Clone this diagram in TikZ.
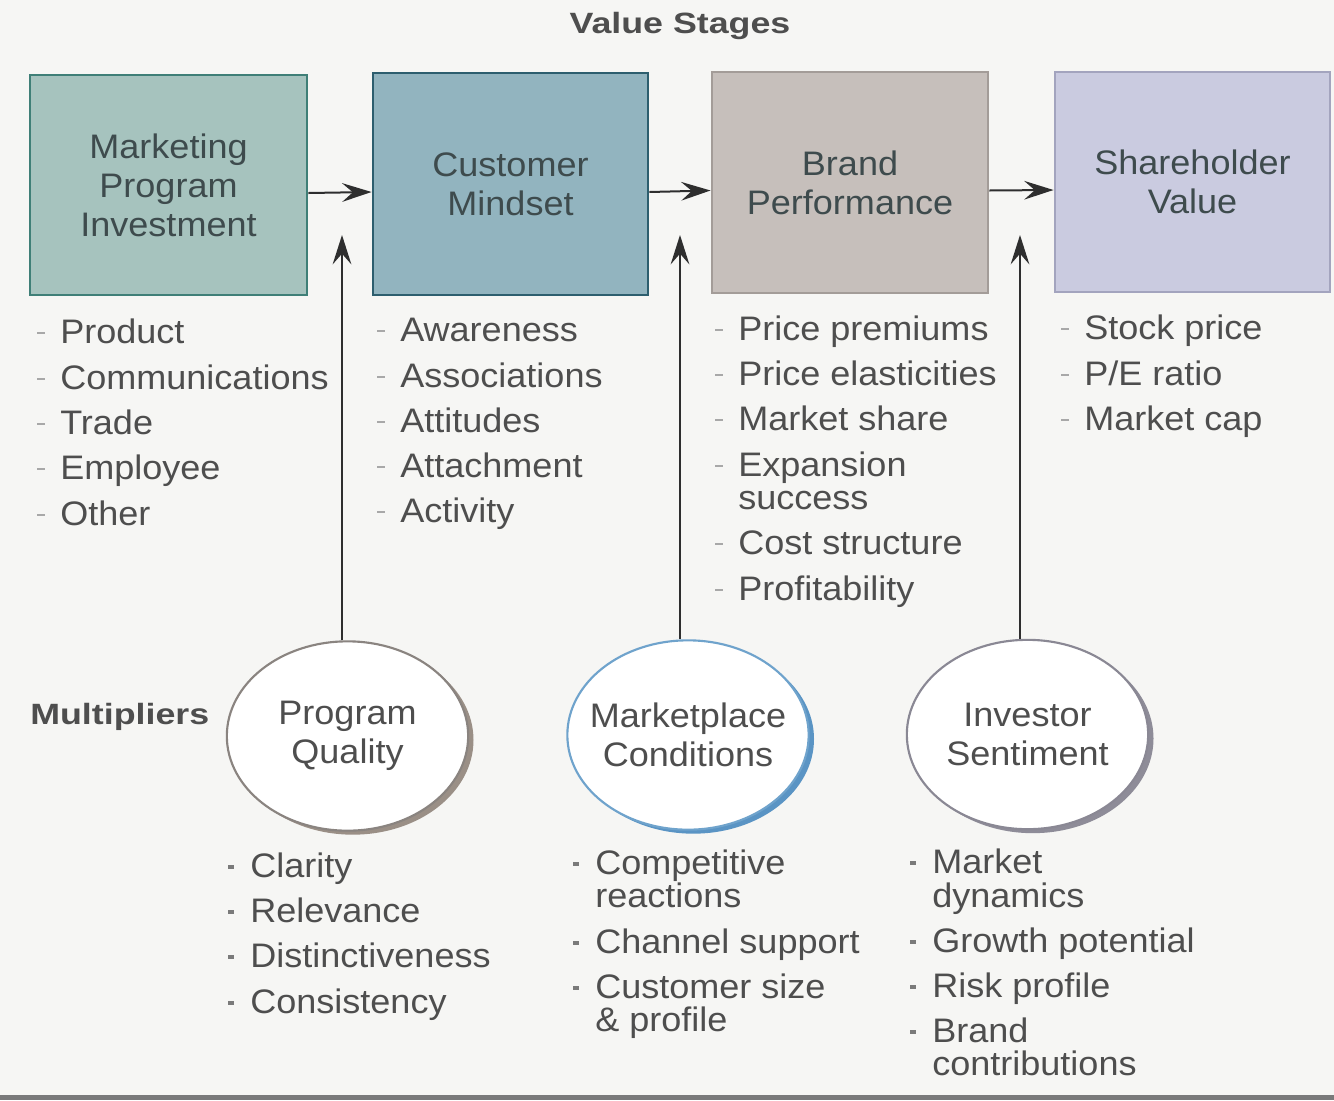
\documentclass[tikz,border=0pt]{standalone}
\usepackage{fontspec}
\setmainfont{Liberation Sans}[FakeStretch=1.06]
\newfontfamily\wbold{Liberation Sans}[FakeStretch=1.22]
\usetikzlibrary{arrows.meta,shadows,shapes.geometric}
\definecolor{bgc}{HTML}{F6F6F4}
\definecolor{barc}{HTML}{7A7A7A}
\definecolor{txtc}{HTML}{4E4E4E}
\definecolor{boxtxt}{HTML}{3E4B4D}
\definecolor{f1}{HTML}{A6C3BE}\definecolor{d1}{HTML}{3F7F77}
\definecolor{f2}{HTML}{92B4BF}\definecolor{d2}{HTML}{2D5E6E}
\definecolor{f3}{HTML}{C6BFBB}\definecolor{d3}{HTML}{A39C98}
\definecolor{f4}{HTML}{CACBE0}\definecolor{d4}{HTML}{A3A4BE}
\definecolor{e1}{HTML}{8A8480}\definecolor{s1}{HTML}{9A8F86}
\definecolor{e2}{HTML}{6FA3CC}\definecolor{s2}{HTML}{5A94C4}
\definecolor{e3}{HTML}{8A8894}\definecolor{s3}{HTML}{8E8C98}
\definecolor{arrc}{HTML}{2E2E2E}
\definecolor{bulc}{HTML}{A8A8A8}
\definecolor{bulc2}{HTML}{7A7A7A}
\newcommand{\bodyfont}{\fontsize{25.5pt}{29.25pt}\selectfont}
\newcommand{\titlefont}{\wbold\bfseries\fontsize{22pt}{26pt}\selectfont}
\tikzset{
  stagebox/.style={draw, line width=2.2pt, inner sep=0pt, text=boxtxt,
    align=center, font=\bodyfont},
  mult/.style={ellipse, draw, fill=white, line width=1.6pt, inner sep=-24pt,
    minimum width=181pt, minimum height=142pt, align=center, text=txtc,
    font=\bodyfont},
  itemtxt/.style={anchor=base west, inner sep=0pt, text=txtc, font=\bodyfont},
  dashb/.style={fill=bulc, inner sep=0pt, minimum width=5.5pt, minimum height=2.2pt},
  dotb/.style={fill=bulc2, inner sep=0pt, minimum width=4.5pt, minimum height=3.5pt},
  arr/.style={draw=arrc, line width=1.5pt,
    -{Stealth[length=22pt,width=14pt,inset=8pt]}},
  heading/.style={inner sep=0pt, text=txtc, font=\titlefont}
}
\newcommand{\topitem}[4]{%
  \node[dashb] (#4b) at (#1-19,#2-10) {};
  \node[itemtxt] (#4) at (#1,#2) {#3};}
\newcommand{\botitem}[4]{%
  \node[dotb] (#4b) at (#1-19,#2-10) {};
  \node[itemtxt] (#4) at (#1,#2) {#3};}
\newcommand{\contline}[4]{\node[itemtxt] (#4) at (#1,#2) {#3};}
\begin{document}
\begin{tikzpicture}[x=0.75pt,y=-0.75pt]
\fill[bgc] (0,0) rectangle (1334,1100);
\useasboundingbox (0,0) rectangle (1334,1100);
\fill[barc] (0,1095) rectangle (1334,1100);

% headings
\node[heading, anchor=base] (vs) at (680,33) {Value Stages};
\node[heading, anchor=base west] (mu) at (30,724) {Multipliers};

% stage boxes
\node[stagebox, fill=f1, draw=d1, minimum width=207.75pt, minimum height=165pt]
  (b1) at (168.5,185) {Marketing\\Program\\Investment};
\node[stagebox, fill=f2, draw=d2, minimum width=206.25pt, minimum height=166.5pt]
  (b2) at (510.5,184) {Customer\\Mindset};
\node[stagebox, fill=f3, draw=d3, minimum width=207pt, minimum height=165.75pt]
  (b3) at (850,182.5) {Brand\\Performance};
\node[stagebox, fill=f4, draw=d4, minimum width=206.25pt, minimum height=165pt]
  (b4) at (1192.5,182) {Shareholder\\Value};

% horizontal arrows
\draw[arr] ([yshift=-6pt]b1.east) -- ([yshift=-6pt]b2.west);
\draw[arr] ([yshift=-6pt]b2.east) -- ([yshift=-6pt]b3.west);
\draw[arr] ([yshift=-6pt]b3.east) -- ([yshift=-6pt]b4.west);

% multipliers
\node[mult, draw=e1, drop shadow={shadow xshift=4pt, shadow yshift=-3pt, fill=s1, opacity=1}]
  (m1) at (347.5,736) {Program\\Quality};
\node[mult, draw=e2, drop shadow={shadow xshift=4pt, shadow yshift=-3pt, fill=s2, opacity=1}]
  (m2) at (688,735) {Marketplace\\Conditions};
\node[mult, draw=e3, drop shadow={shadow xshift=4pt, shadow yshift=-3pt, fill=s3, opacity=1}]
  (m3) at (1027.5,734.5) {Investor\\Sentiment};

% vertical arrows
\coordinate (t1) at (342,235);
\coordinate (t2) at (680,235);
\coordinate (t3) at (1020,235);
\draw[arr] (t1 |- m1.north) -- (t1);
\draw[arr] (t2 |- m2.north) -- (t2);
\draw[arr] (t3 |- m3.north) -- (t3);

% lists under boxes
\topitem{60}{343}{Product}{la1}
\topitem{60}{389}{Communications}{la2}
\topitem{60}{434}{Trade}{la3}
\topitem{60}{479}{Employee}{la4}
\topitem{60}{525}{Other}{la5}

\topitem{400}{341}{Awareness}{lb1}
\topitem{400}{387}{Associations}{lb2}
\topitem{400}{432}{Attitudes}{lb3}
\topitem{400}{477}{Attachment}{lb4}
\topitem{400}{522}{Activity}{lb5}

\topitem{738}{340}{Price premiums}{lc1}
\topitem{738}{385}{Price elasticities}{lc2}
\topitem{738}{430}{Market share}{lc3}
\topitem{738}{476}{Expansion}{lc4}
\contline{738}{509}{success}{lc4x}
\topitem{738}{554}{Cost structure}{lc5}
\topitem{738}{600}{Profitability}{lc6}

\topitem{1084}{339}{Stock price}{ld1}
\topitem{1084}{385}{P/E ratio}{ld2}
\topitem{1084}{430}{Market cap}{ld3}

% lists under multipliers
\botitem{250}{877}{Clarity}{ma1}
\botitem{250}{922}{Relevance}{ma2}
\botitem{250}{967}{Distinctiveness}{ma3}
\botitem{250}{1013}{Consistency}{ma4}

\botitem{595}{874}{Competitive}{mb1}
\contline{595}{907}{reactions}{mb1x}
\botitem{595}{953}{Channel support}{mb2}
\botitem{595}{998}{Customer size}{mb3}
\contline{595}{1031}{\& profile}{mb3x}

\botitem{932}{873}{Market}{mc1}
\contline{932}{907}{dynamics}{mc1x}
\botitem{932}{952}{Growth potential}{mc2}
\botitem{932}{997}{Risk profile}{mc3}
\botitem{932}{1042}{Brand}{mc4}
\contline{932}{1075}{contributions}{mc4x}
\end{tikzpicture}
\end{document}
